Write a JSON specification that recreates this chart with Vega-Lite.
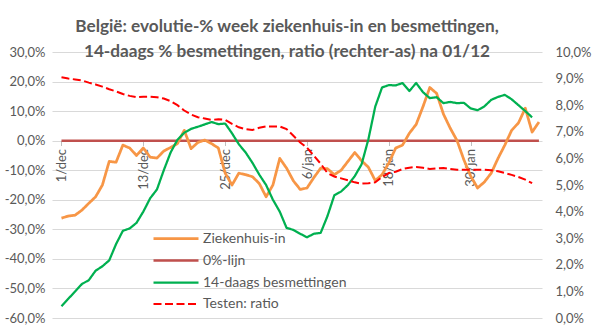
{
  "$schema": "https://vega.github.io/schema/vega-lite/v6.json",
  "width": 490,
  "height": 266,
  "autosize": "none",
  "padding": {"left": 52, "top": 52, "right": 53, "bottom": 11},
  "background": "white",
  "config": {
    "font": "Lato",
    "view": {"stroke": null},
    "axis": {"labelColor": "#595959", "labelFontSize": 13, "labelFont": "Lato", "title": null}
  },
  "title": {
    "text": ["België: evolutie-%  week ziekenhuis-in en besmettingen,", "14-daags % besmettingen, ratio (rechter-as) na 01/12"],
    "font": "Lato",
    "fontSize": 17.2,
    "fontWeight": "bold",
    "color": "#595959",
    "anchor": "middle",
    "frame": "group",
    "baseline": "alphabetic",
    "lineHeight": 25,
    "offset": -28,
    "dx": -10
  },
  "data": {
    "values": [
      {"datum": "2020-12-01", "ziekenhuis": -26.2, "besmettingen": -56, "ratio": 9.05, "nullijn": 0},
      {"datum": "2020-12-02", "ziekenhuis": -25.5, "besmettingen": -53.5, "ratio": 9.0, "nullijn": 0},
      {"datum": "2020-12-03", "ziekenhuis": -25.2, "besmettingen": -51, "ratio": 8.97, "nullijn": 0},
      {"datum": "2020-12-04", "ziekenhuis": -23.5, "besmettingen": -48.5, "ratio": 8.93, "nullijn": 0},
      {"datum": "2020-12-05", "ziekenhuis": -21.2, "besmettingen": -47.2, "ratio": 8.85, "nullijn": 0},
      {"datum": "2020-12-06", "ziekenhuis": -19.0, "besmettingen": -44, "ratio": 8.78, "nullijn": 0},
      {"datum": "2020-12-07", "ziekenhuis": -15.0, "besmettingen": -42.5, "ratio": 8.7, "nullijn": 0},
      {"datum": "2020-12-08", "ziekenhuis": -7.0, "besmettingen": -40.5, "ratio": 8.6, "nullijn": 0},
      {"datum": "2020-12-09", "ziekenhuis": -7.3, "besmettingen": -35, "ratio": 8.52, "nullijn": 0},
      {"datum": "2020-12-10", "ziekenhuis": -1.5, "besmettingen": -30.5, "ratio": 8.42, "nullijn": 0},
      {"datum": "2020-12-11", "ziekenhuis": -2.5, "besmettingen": -29.7, "ratio": 8.35, "nullijn": 0},
      {"datum": "2020-12-12", "ziekenhuis": -5.0, "besmettingen": -27.8, "ratio": 8.3, "nullijn": 0},
      {"datum": "2020-12-13", "ziekenhuis": -2.5, "besmettingen": -24, "ratio": 8.32, "nullijn": 0},
      {"datum": "2020-12-14", "ziekenhuis": -5.6, "besmettingen": -19.5, "ratio": 8.32, "nullijn": 0},
      {"datum": "2020-12-15", "ziekenhuis": -5.9, "besmettingen": -16.5, "ratio": 8.3, "nullijn": 0},
      {"datum": "2020-12-16", "ziekenhuis": -3.5, "besmettingen": -10, "ratio": 8.25, "nullijn": 0},
      {"datum": "2020-12-17", "ziekenhuis": -2.3, "besmettingen": -4, "ratio": 8.15, "nullijn": 0},
      {"datum": "2020-12-18", "ziekenhuis": -1.0, "besmettingen": 0.3, "ratio": 8.0, "nullijn": 0},
      {"datum": "2020-12-19", "ziekenhuis": 3.5, "besmettingen": 2.7, "ratio": 7.8, "nullijn": 0},
      {"datum": "2020-12-20", "ziekenhuis": -2.7, "besmettingen": 4, "ratio": 7.65, "nullijn": 0},
      {"datum": "2020-12-21", "ziekenhuis": -0.6, "besmettingen": 4.7, "ratio": 7.55, "nullijn": 0},
      {"datum": "2020-12-22", "ziekenhuis": 0.2, "besmettingen": 5.5, "ratio": 7.5, "nullijn": 0},
      {"datum": "2020-12-23", "ziekenhuis": -1.0, "besmettingen": 6.3, "ratio": 7.45, "nullijn": 0},
      {"datum": "2020-12-24", "ziekenhuis": -2.5, "besmettingen": 5.6, "ratio": 7.47, "nullijn": 0},
      {"datum": "2020-12-25", "ziekenhuis": -11, "besmettingen": 5.8, "ratio": 7.45, "nullijn": 0},
      {"datum": "2020-12-26", "ziekenhuis": -15, "besmettingen": 2.5, "ratio": 7.3, "nullijn": 0},
      {"datum": "2020-12-27", "ziekenhuis": -11, "besmettingen": -1.2, "ratio": 7.17, "nullijn": 0},
      {"datum": "2020-12-28", "ziekenhuis": -11.5, "besmettingen": -4, "ratio": 7.1, "nullijn": 0},
      {"datum": "2020-12-29", "ziekenhuis": -12.2, "besmettingen": -7.5, "ratio": 7.07, "nullijn": 0},
      {"datum": "2020-12-30", "ziekenhuis": -14.5, "besmettingen": -11.5, "ratio": 7.15, "nullijn": 0},
      {"datum": "2020-12-31", "ziekenhuis": -19, "besmettingen": -15, "ratio": 7.2, "nullijn": 0},
      {"datum": "2021-01-01", "ziekenhuis": -15, "besmettingen": -20, "ratio": 7.2, "nullijn": 0},
      {"datum": "2021-01-02", "ziekenhuis": -6, "besmettingen": -24, "ratio": 7.2, "nullijn": 0},
      {"datum": "2021-01-03", "ziekenhuis": -9.3, "besmettingen": -29.5, "ratio": 7.1, "nullijn": 0},
      {"datum": "2021-01-04", "ziekenhuis": -13.6, "besmettingen": -30.2, "ratio": 6.85, "nullijn": 0},
      {"datum": "2021-01-05", "ziekenhuis": -16.5, "besmettingen": -31.5, "ratio": 6.6, "nullijn": 0},
      {"datum": "2021-01-06", "ziekenhuis": -16, "besmettingen": -32.7, "ratio": 6.4, "nullijn": 0},
      {"datum": "2021-01-07", "ziekenhuis": -12.5, "besmettingen": -31.5, "ratio": 6.1, "nullijn": 0},
      {"datum": "2021-01-08", "ziekenhuis": -9.3, "besmettingen": -31.2, "ratio": 5.8, "nullijn": 0},
      {"datum": "2021-01-09", "ziekenhuis": -9.5, "besmettingen": -25.5, "ratio": 5.45, "nullijn": 0},
      {"datum": "2021-01-10", "ziekenhuis": -11.5, "besmettingen": -18.5, "ratio": 5.32, "nullijn": 0},
      {"datum": "2021-01-11", "ziekenhuis": -10, "besmettingen": -17.2, "ratio": 5.25, "nullijn": 0},
      {"datum": "2021-01-12", "ziekenhuis": -7, "besmettingen": -15, "ratio": 5.18, "nullijn": 0},
      {"datum": "2021-01-13", "ziekenhuis": -4, "besmettingen": -12, "ratio": 5.1, "nullijn": 0},
      {"datum": "2021-01-14", "ziekenhuis": -6.8, "besmettingen": -8, "ratio": 5.05, "nullijn": 0},
      {"datum": "2021-01-15", "ziekenhuis": -9, "besmettingen": 0.5, "ratio": 5.07, "nullijn": 0},
      {"datum": "2021-01-16", "ziekenhuis": -13.5, "besmettingen": 11.5, "ratio": 5.1, "nullijn": 0},
      {"datum": "2021-01-17", "ziekenhuis": -11.5, "besmettingen": 18, "ratio": 5.3, "nullijn": 0},
      {"datum": "2021-01-18", "ziekenhuis": -7.5, "besmettingen": 18.8, "ratio": 5.45, "nullijn": 0},
      {"datum": "2021-01-19", "ziekenhuis": -2.5, "besmettingen": 18.7, "ratio": 5.5, "nullijn": 0},
      {"datum": "2021-01-20", "ziekenhuis": -1.5, "besmettingen": 19.5, "ratio": 5.6, "nullijn": 0},
      {"datum": "2021-01-21", "ziekenhuis": 2.5, "besmettingen": 16.8, "ratio": 5.65, "nullijn": 0},
      {"datum": "2021-01-22", "ziekenhuis": 5.5, "besmettingen": 19.5, "ratio": 5.68, "nullijn": 0},
      {"datum": "2021-01-23", "ziekenhuis": 11.5, "besmettingen": 16.4, "ratio": 5.65, "nullijn": 0},
      {"datum": "2021-01-24", "ziekenhuis": 18, "besmettingen": 14.4, "ratio": 5.6, "nullijn": 0},
      {"datum": "2021-01-25", "ziekenhuis": 16, "besmettingen": 14.7, "ratio": 5.62, "nullijn": 0},
      {"datum": "2021-01-26", "ziekenhuis": 9, "besmettingen": 12.7, "ratio": 5.64, "nullijn": 0},
      {"datum": "2021-01-27", "ziekenhuis": 4.2, "besmettingen": 13.1, "ratio": 5.6, "nullijn": 0},
      {"datum": "2021-01-28", "ziekenhuis": 0, "besmettingen": 12.7, "ratio": 5.57, "nullijn": 0},
      {"datum": "2021-01-29", "ziekenhuis": -6.5, "besmettingen": 12.8, "ratio": 5.57, "nullijn": 0},
      {"datum": "2021-01-30", "ziekenhuis": -12, "besmettingen": 10.9, "ratio": 5.57, "nullijn": 0},
      {"datum": "2021-01-31", "ziekenhuis": -16, "besmettingen": 10.3, "ratio": 5.57, "nullijn": 0},
      {"datum": "2021-02-01", "ziekenhuis": -14, "besmettingen": 11.6, "ratio": 5.57, "nullijn": 0},
      {"datum": "2021-02-02", "ziekenhuis": -11, "besmettingen": 13.8, "ratio": 5.55, "nullijn": 0},
      {"datum": "2021-02-03", "ziekenhuis": -6, "besmettingen": 14.8, "ratio": 5.52, "nullijn": 0},
      {"datum": "2021-02-04", "ziekenhuis": -1.5, "besmettingen": 15.5, "ratio": 5.45, "nullijn": 0},
      {"datum": "2021-02-05", "ziekenhuis": 3.5, "besmettingen": 14, "ratio": 5.38, "nullijn": 0},
      {"datum": "2021-02-06", "ziekenhuis": 6, "besmettingen": 12, "ratio": 5.3, "nullijn": 0},
      {"datum": "2021-02-07", "ziekenhuis": 11, "besmettingen": 10, "ratio": 5.2, "nullijn": 0},
      {"datum": "2021-02-08", "ziekenhuis": 2.9, "besmettingen": 7.9, "ratio": 5.07, "nullijn": 0},
      {"datum": "2021-02-09", "ziekenhuis": 6.3, "besmettingen": null, "ratio": null, "nullijn": 0}
    ]
  },
  "encoding": {
    "x": {
      "field": "datum",
      "type": "temporal",
      "scale": {
        "type": "utc",
        "domain": [
          {"year": 2020, "month": 11, "date": 29, "hours": 14, "minutes": 38, "utc": true},
          {"year": 2021, "month": 2, "date": 9, "hours": 10, "minutes": 48, "utc": true}
        ]
      },
      "axis": {
        "orient": "bottom",
        "offset": -177.5,
        "values": [
          {"year": 2020, "month": 12, "date": 1, "utc": true},
          {"year": 2020, "month": 12, "date": 13, "utc": true},
          {"year": 2020, "month": 12, "date": 25, "utc": true},
          {"year": 2021, "month": 1, "date": 6, "utc": true},
          {"year": 2021, "month": 1, "date": 18, "utc": true},
          {"year": 2021, "month": 1, "date": 30, "utc": true}
        ],
        "labelExpr": "utcFormat(datum.value, '%-d') + '/' + lower(utcFormat(datum.value, '%b'))",
        "labelAngle": 270,
        "labelPadding": 3,
        "domain": false,
        "ticks": true,
        "tickSize": 5,
        "tickColor": "#bfbfbf",
        "grid": false,
        "title": null
      }
    }
  },
  "layer": [
    {
      "transform": [{"fold": ["nullijn", "ziekenhuis", "besmettingen"], "as": ["reeks", "waarde"]}],
      "mark": {"type": "line", "strokeJoin": "round"},
      "encoding": {
        "y": {
          "field": "waarde",
          "type": "quantitative",
          "scale": {"domain": [-60, 30], "nice": false, "zero": false},
          "axis": {
            "orient": "left",
            "values": [-60, -50, -40, -30, -20, -10, 0, 10, 20, 30],
            "labelExpr": "(datum.value < 0 ? '-' : '') + replace(format(abs(datum.value), '.1f'), '.', ',') + '%'",
            "grid": true,
            "gridColor": "#d9d9d9",
            "gridWidth": 1,
            "domain": false,
            "ticks": false,
            "labelPadding": 7,
            "title": null
          }
        },
        "color": {
          "field": "reeks",
          "type": "nominal",
          "scale": {
            "domain": ["ziekenhuis", "nullijn", "besmettingen", "ratio"],
            "range": ["#F79646", "#C0504D", "#00B050", "#FF0000"]
          },
          "legend": {
            "orient": "none",
            "legendX": 113.5,
            "legendY": 176,
            "title": null,
            "padding": 0,
            "symbolType": "M-2.5,0H2.5",
            "symbolSize": 324,
            "labelOffset": 16.5,
            "rowPadding": 4,
            "labelFontSize": 14,
            "labelFont": "Lato",
            "labelColor": "#595959",
            "labelExpr": "datum.value == 'ziekenhuis' ? 'Ziekenhuis-in' : datum.value == 'nullijn' ? '0%-lijn' : datum.value == 'besmettingen' ? '14-daags besmettingen' : 'Testen: ratio'"
          }
        },
        "strokeDash": {
          "field": "reeks",
          "type": "nominal",
          "scale": {
            "domain": ["ziekenhuis", "nullijn", "besmettingen", "ratio"],
            "range": [[1, 0], [1, 0], [1, 0], [8, 3.5]]
          }
        },
        "strokeWidth": {
          "field": "reeks",
          "type": "nominal",
          "scale": {
            "domain": ["ziekenhuis", "nullijn", "besmettingen", "ratio"],
            "range": [2.75, 2, 3, 4.5]
          }
        }
      }
    },
    {
      "mark": {"type": "line"},
      "encoding": {
        "y": {
          "field": "ratio",
          "type": "quantitative",
          "scale": {"domain": [0, 10], "nice": false, "zero": false},
          "axis": {
            "orient": "right",
            "values": [0, 1, 2, 3, 4, 5, 6, 7, 8, 9, 10],
            "labelExpr": "replace(format(datum.value, '.1f'), '.', ',') + '%'",
            "grid": false,
            "domain": false,
            "ticks": false,
            "labelPadding": 13,
            "title": null
          }
        },
        "color": {"datum": "ratio"},
        "strokeDash": {"datum": "ratio"},
        "strokeWidth": {"datum": "ratio"}
      }
    }
  ],
  "resolve": {"scale": {"y": "independent"}}
}
